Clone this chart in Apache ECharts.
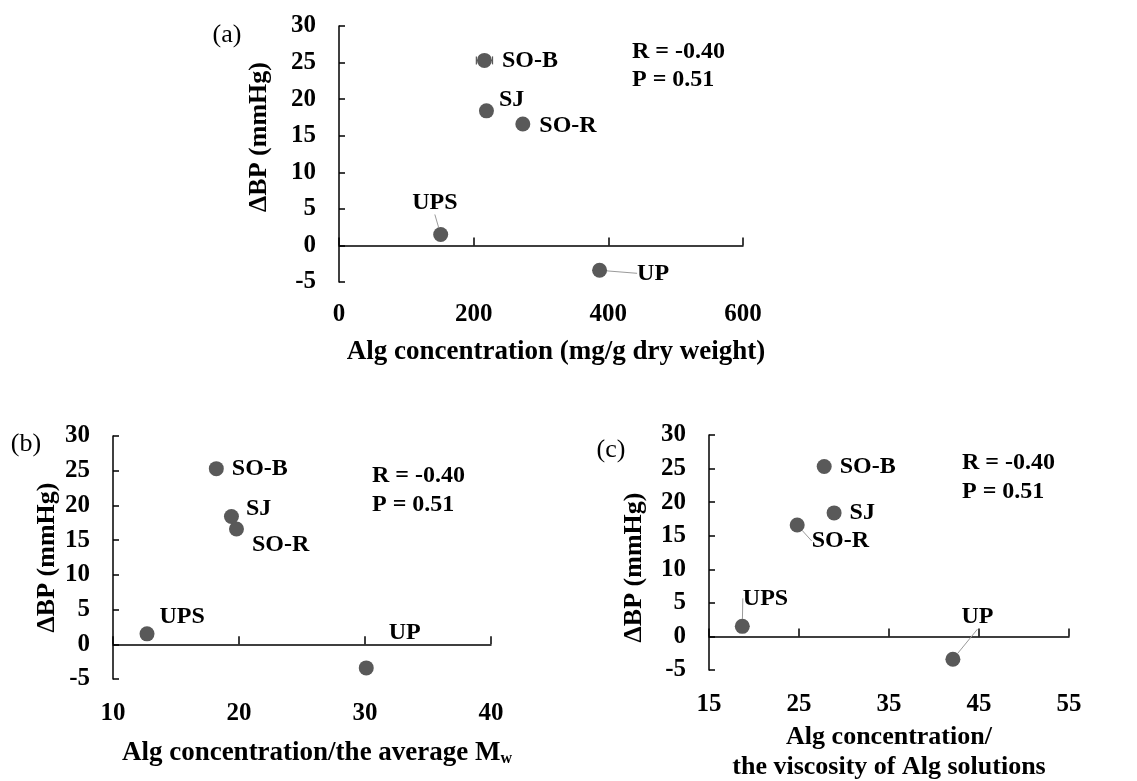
<!DOCTYPE html>
<html>
<head>
<meta charset="utf-8">
<script src="https://cdn.jsdelivr.net/npm/echarts@6/dist/echarts.min.js"></script>
<style>
  html, body { margin: 0; padding: 0; background: #fff; }
  #chart { width: 1137px; height: 781px; }
</style>
</head>
<body>
<div id="chart"></div>
<script>
// sample groups
const groups = ['SO-B', 'SJ', 'SO-R', 'UPS', 'UP'];
// change of blood pressure (mmHg)
const deltaBP = [25.3, 18.4, 16.6, 1.5, -3.4];
// (a) Alg concentration (mg/g dry weight) + error
const algConc = [216, 219, 273, 151, 387];
const algConcErr = [12, 0, 0, 6, 0];
// (b) Alg concentration / average Mw
const algPerMw = [18.2, 19.4, 19.8, 12.7, 30.1];
// (c) Alg concentration / viscosity
const algPerVisc = [27.8, 28.9, 24.8, 18.7, 42.1];
const xTicksA = [0, 600, 200];
const xTicksB = [10, 40, 10];
const xTicksC = [15, 55, 10];
const yTicks = [-5, 30, 5];
const statText = 'R = -0.40\nP = 0.51';

const FONT = '"Liberation Serif", "Times New Roman", serif';
const AXIS_COLOR = '#000';
const DOT_COLOR = '#595959';

const panels = [
  {
    grid: {left: 339, top: 26, width: 404, height: 256},
    x: algConc, ticks: xTicksA,
    xName: 'Alg concentration (mg/g dry weight)', xNameSize: 27, xNameGap: 55, xNamePad: [0, 0, 0, 30], xLabelMargin: 20,
    yNameGap: 67, yNamePad: [0, 0, 0, 34],
    move: {'SO-B': [5, 0], 'SJ': [0, -11], 'SO-R': [4, 2], 'UPS': [-41, -32], 'UP': [25, 3]},
    leaders: ['UPS', 'UP'],
    guides: {},
    tag: {text: '(a)', x: 227, y: 35},
    stat: {x: 632, y: 38, lh: 28}
  },
  {
    grid: {left: 113, top: 436, width: 378, height: 243},
    x: algPerMw, ticks: xTicksB,
    xName: 'Alg concentration/the average M{w|w}', xNameSize: 27, xNameGap: 59, xNamePad: [0, 0, 0, 30], xLabelMargin: 22,
    yNameGap: 53, yNamePad: [0, 0, 0, 0],
    move: {'SO-B': [3, 0], 'SJ': [2, -8], 'SO-R': [3, 16], 'UPS': [0, -17], 'UP': [10, -35]},
    leaders: [],
    guides: {},
    tag: {text: '(b)', x: 26, y: 444},
    stat: {x: 372, y: 461, lh: 29}
  },
  {
    grid: {left: 709, top: 435, width: 360, height: 235},
    x: algPerVisc, ticks: xTicksC,
    xName: 'Alg concentration/\nthe viscosity of Alg solutions', xNameSize: 26, xNameGap: 52, xNamePad: [0, 0, 0, 0], xLabelMargin: 22,
    yNameGap: 62, yNamePad: [0, 30, 0, 0],
    move: {'SO-B': [3, 0], 'SJ': [3, 0], 'SO-R': [2, 16], 'UPS': [-12, -28], 'UP': [-4, -42]},
    leaders: ['SO-R', 'UPS', 'UP'],
    // guide line shapes, built from the symbol centre and the moved label box
    guides: {
      'SO-R': (cx, cy, lx, ly, w, h) => [[cx + 1, cy + 3], [cx + 2, ly + h / 2], [lx - 2, ly + h / 2]],
      'UPS': (cx, cy, lx, ly, w, h) => [[cx + 3, cy - 3], [lx + 20, ly + h - 3]]
    },
    tag: {text: '(c)', x: 611, y: 450},
    stat: {x: 962, y: 448, lh: 29}
  }
];

const boldText = size => ({fontFamily: FONT, fontWeight: 'bold', fontSize: size, color: '#000'});
const lineStyle = {color: AXIS_COLOR, width: 1.5};

const option = {
  animation: false,
  backgroundColor: '#fff',
  grid: [],
  xAxis: [],
  yAxis: [],
  series: [],
  graphic: []
};

panels.forEach((p, i) => {
  option.grid.push(Object.assign({outerBoundsMode: 'none', containLabel: false}, p.grid));
  // x axis line through zero, ticks pointing up
  option.xAxis.push({
    gridIndex: i, type: 'value', position: 'bottom',
    min: p.ticks[0], max: p.ticks[1], interval: p.ticks[2],
    axisLine: {show: true, onZero: true, lineStyle: lineStyle},
    axisTick: {show: true, inside: true, length: 8, lineStyle: lineStyle},
    axisLabel: {show: false},
    splitLine: {show: false}
  });
  // tick labels + name along the bottom edge
  option.xAxis.push({
    gridIndex: i, type: 'value', position: 'bottom',
    min: p.ticks[0], max: p.ticks[1], interval: p.ticks[2],
    axisLine: {show: false, onZero: false},
    axisTick: {show: false},
    splitLine: {show: false},
    axisLabel: Object.assign({margin: p.xLabelMargin}, boldText(25)),
    name: p.xName, nameLocation: 'middle', nameGap: p.xNameGap,
    nameTextStyle: Object.assign({lineHeight: 30, padding: p.xNamePad, rich: {
      w: {fontFamily: FONT, fontWeight: 'bold', fontSize: 16, color: '#000', padding: [12, 0, 0, 0]}
    }}, boldText(p.xNameSize))
  });
  option.yAxis.push({
    gridIndex: i, type: 'value',
    min: yTicks[0], max: yTicks[1], interval: yTicks[2],
    axisLine: {show: true, onZero: false, lineStyle: lineStyle},
    axisTick: {show: true, inside: true, length: 6, lineStyle: lineStyle},
    axisLabel: Object.assign({margin: 23}, boldText(25)),
    splitLine: {show: false},
    name: 'ΔBP (mmHg)', nameLocation: 'middle', nameRotate: 90, nameGap: p.yNameGap,
    nameTextStyle: Object.assign({padding: p.yNamePad}, boldText(26))
  });

  option.series.push({
    type: 'scatter',
    xAxisIndex: i * 2, yAxisIndex: i,
    symbolSize: 15,
    z: 3,
    itemStyle: {color: DOT_COLOR, opacity: 1},
    label: Object.assign({show: true, formatter: '{b}', position: 'right', distance: 5}, boldText(24)),
    labelLine: {show: false, lineStyle: {color: '#9a9a9a', width: 1}},
    labelLayout: params => {
      const g = groups[params.dataIndex];
      const m = p.move[g];
      const out = {dx: m[0], dy: m[1]};
      const guide = p.guides[g];
      if (guide && params.rect && params.labelRect) {
        const r = params.rect, lr = params.labelRect;
        out.labelLinePoints = guide(r.x + r.width / 2, r.y + r.height / 2,
          lr.x + m[0], lr.y + m[1], lr.width, lr.height);
      }
      return out;
    },
    data: groups.map((g, k) => ({
      name: g,
      value: [p.x[k], deltaBP[k]],
      labelLine: {show: p.leaders.indexOf(g) >= 0}
    }))
  });

  option.graphic.push({
    type: 'text', x: p.tag.x, y: p.tag.y,
    style: {text: p.tag.text, font: '26px ' + FONT, fill: '#000', textAlign: 'center', textVerticalAlign: 'middle'}
  });
  option.graphic.push({
    type: 'text', x: p.stat.x, y: p.stat.y,
    style: {text: statText, font: 'bold 24px ' + FONT, fill: '#000', lineHeight: p.stat.lh, textAlign: 'left', textVerticalAlign: 'top'}
  });
});

// horizontal error bars in panel (a)
option.series.push({
  type: 'custom',
  xAxisIndex: 0, yAxisIndex: 0,
  z: 2,
  data: groups.map((g, k) => [algConc[k], deltaBP[k], algConcErr[k]]).filter(d => d[2] > 0),
  renderItem: (params, api) => {
    const x = api.value(0), y = api.value(1), e = api.value(2);
    const a = api.coord([x - e, y]);
    const b = api.coord([x + e, y]);
    const st = {stroke: DOT_COLOR, lineWidth: 1.2};
    return {
      type: 'group',
      children: [
        {type: 'line', shape: {x1: a[0], y1: a[1], x2: b[0], y2: b[1]}, style: st},
        {type: 'line', shape: {x1: a[0], y1: a[1] - 4, x2: a[0], y2: a[1] + 4}, style: st},
        {type: 'line', shape: {x1: b[0], y1: b[1] - 4, x2: b[0], y2: b[1] + 4}, style: st}
      ]
    };
  }
});

const chart = echarts.init(document.getElementById('chart'));
chart.setOption(option);
</script>
</body>
</html>
